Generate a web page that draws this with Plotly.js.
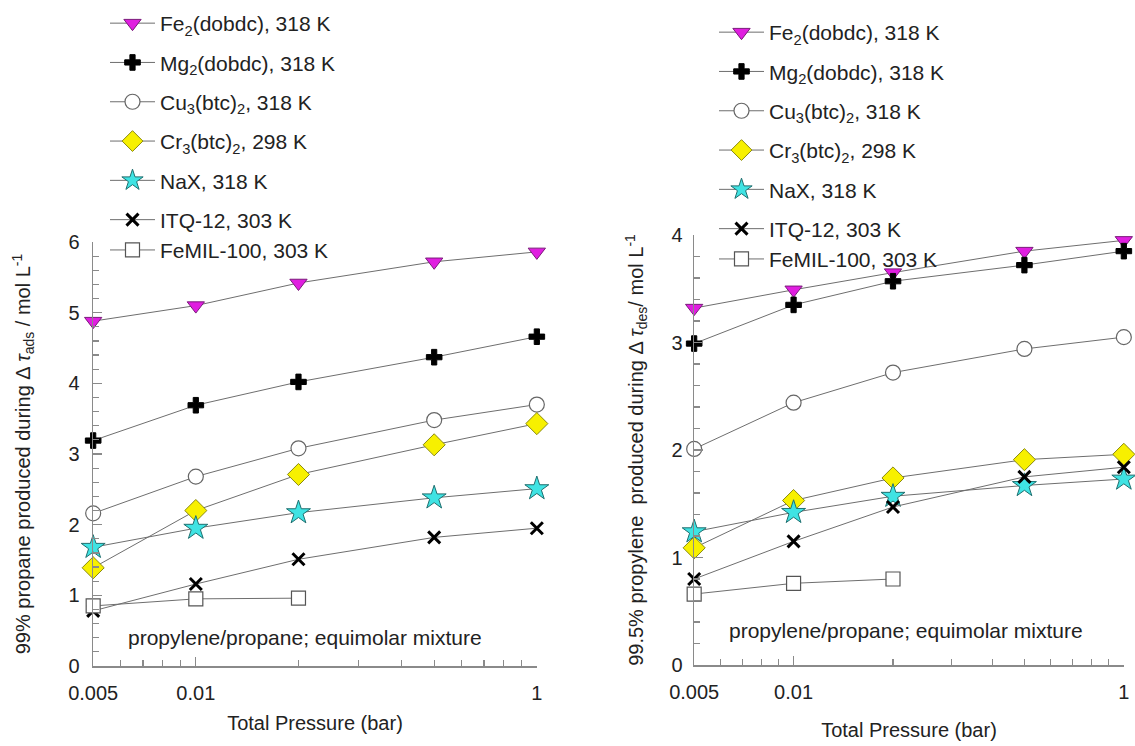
<!DOCTYPE html>
<html>
<head>
<meta charset="utf-8">
<script src="https://cdn.plot.ly/plotly-3.0.1.min.js"></script>
<style>html,body{margin:0;padding:0;background:#fff;}#chart{width:1135px;height:746px;}</style>
</head>
<body>
<div id="chart"></div>
<script>
// ---------- data ----------
const pressure = [0.005, 0.01, 0.02, 0.05, 0.1];
const pressureShort = [0.005, 0.01, 0.02];

const seriesNames = [
  "Fe<sub>2</sub>(dobdc), 318 K",
  "Mg<sub>2</sub>(dobdc), 318 K",
  "Cu<sub>3</sub>(btc)<sub>2</sub>, 318 K",
  "Cr<sub>3</sub>(btc)<sub>2</sub>, 298 K",
  "NaX, 318 K",
  "ITQ-12, 303 K",
  "FeMIL-100, 303 K"
];

// left panel: 99% propane produced during adsorption (mol/L)
const adsFe    = [4.88, 5.10, 5.42, 5.72, 5.86];
const adsMg    = [3.19, 3.69, 4.02, 4.37, 4.66];
const adsCu    = [2.16, 2.68, 3.08, 3.48, 3.70];
const adsCr    = [1.39, 2.20, 2.71, 3.13, 3.43];
const adsNaX   = [1.68, 1.95, 2.17, 2.38, 2.51];
const adsITQ   = [0.78, 1.16, 1.51, 1.82, 1.95];
const adsFeMIL = [0.85, 0.95, 0.96];

// right panel: 99.5% propylene produced during desorption (mol/L)
const desFe    = [3.32, 3.49, 3.65, 3.85, 3.95];
const desMg    = [2.99, 3.35, 3.57, 3.72, 3.85];
const desCu    = [2.01, 2.44, 2.72, 2.94, 3.05];
const desCr    = [1.09, 1.53, 1.74, 1.91, 1.96];
const desNaX   = [1.24, 1.42, 1.57, 1.67, 1.73];
const desITQ   = [0.80, 1.15, 1.47, 1.75, 1.84];
const desFeMIL = [0.66, 0.76, 0.80];

const xTickVals = [0.005, 0.01, 0.1];
const xTickText = ["0.005", "0.01", "1"];
const xMinorVals = [0.006, 0.007, 0.008, 0.009, 0.02, 0.03, 0.04, 0.05, 0.06, 0.07, 0.08, 0.09];

// ---------- styles ----------
const markerStyles = [
  {symbol: "triangle-down", size: 15, color: "#e01ee0", line: {color: "#7a1a7a", width: 1}},
  {symbol: "cross", size: 13, color: "#000000", line: {color: "#000000", width: 1}},
  {symbol: "circle", size: 15, color: "#ffffff", line: {color: "#666666", width: 1.2}},
  {symbol: "diamond", size: 17, color: "#f7f000", line: {color: "#8a8a10", width: 1}},
  {symbol: "star", size: 18, color: "#3fe3e3", line: {color: "#1f6f6f", width: 1}},
  {symbol: "x-thin", size: 12, color: "#000000", line: {color: "#000000", width: 3}},
  {symbol: "square", size: 14, color: "#ffffff", line: {color: "#555555", width: 1.2}}
];
const groupIds = ["g1", "g2", "g3", "g4", "g5", "g6", "g6"];

const leftSeries  = [adsFe, adsMg, adsCu, adsCr, adsNaX, adsITQ, adsFeMIL];
const rightSeries = [desFe, desMg, desCu, desCr, desNaX, desITQ, desFeMIL];

function makeTraces(series, xa, ya, legendId, suffix) {
  return series.map((vals, i) => ({
    type: "scatter",
    mode: "lines+markers",
    x: vals.length === pressure.length ? pressure : pressureShort,
    y: vals,
    xaxis: xa, yaxis: ya,
    name: seriesNames[i],
    legend: legendId,
    legendgroup: groupIds[i] + suffix,
    line: {color: "#6e6e6e", width: 1},
    marker: markerStyles[i],
    cliponaxis: false,
    hoverinfo: "x+y+name"
  }));
}

const traces = [].concat(
  makeTraces(leftSeries, "x", "y", "legend", "L"),
  makeTraces(rightSeries, "x2", "y2", "legend2", "R")
);

const fontFam = "Liberation Sans, Arial, Helvetica, sans-serif";
const axisCommon = {
  showline: true, linecolor: "#8a8a8a", linewidth: 1.5,
  ticks: "inside", ticklen: 9, tickcolor: "#8a8a8a", tickwidth: 1.2,
  showgrid: false, zeroline: false, automargin: false,
  tickfont: {family: fontFam, size: 20, color: "#222"}
};

// a hair of padding so the end points at 0.005 and 0.1 are not dropped as "outside"
const xRange = [Math.log10(0.005) - 0.0005, Math.log10(0.1) + 0.0005];

function xAxis(domain, anchor, standoff) {
  return Object.assign({}, axisCommon, {
    type: "log", domain: domain, anchor: anchor,
    range: xRange, ticklabelstandoff: 8,
    tickmode: "array", tickvals: xTickVals, ticktext: xTickText,
    minor: {tickmode: "array", tickvals: xMinorVals, ticks: "inside", ticklen: 6, tickcolor: "#8a8a8a", tickwidth: 1.2},
    title: {text: "Total Pressure (bar)", font: {family: fontFam, size: 20, color: "#222"}, standoff: standoff}
  });
}
function yAxis(domain, anchor, top, titleText, standoff, labelGap) {
  return Object.assign({}, axisCommon, {
    domain: domain, anchor: anchor, range: [0, top],
    tickmode: "linear", tick0: 0, dtick: 1, ticklabelstandoff: labelGap,
    minor: {dtick: 0.2, ticks: "inside", ticklen: 6, tickcolor: "#8a8a8a", tickwidth: 1.2},
    title: {text: titleText, font: {family: fontFam, size: 20, color: "#222"}, standoff: standoff}
  });
}

const legendCommon = {
  bgcolor: "rgba(0,0,0,0)", borderwidth: 0,
  font: {family: fontFam, size: 21, color: "#222"},
  traceorder: "grouped", tracegroupgap: 9, itemwidth: 45,
  xanchor: "left", yanchor: "top", itemclick: false, itemdoubleclick: false
};

const layout = {
  width: 1135, height: 746,
  margin: {l: 0, r: 0, t: 0, b: 0},
  paper_bgcolor: "#ffffff", plot_bgcolor: "rgba(0,0,0,0)",
  showlegend: true,
  font: {family: fontFam, color: "#222"},
  xaxis: xAxis([93/1135, 537/1135], "y", 13),
  yaxis: yAxis([80/746, 504/746], "x", 6,
    "99% propane produced during \u0394 <i>\u03c4</i><sub>ads</sub> / mol L<sup>-1</sup>", 32, 8),
  xaxis2: xAxis([694/1135, 1124/1135], "y2", 21),
  yaxis2: yAxis([81/746, 511/746], "x2", 4,
    "99.5% propylene  produced during \u0394 <i>\u03c4</i><sub>des</sub>/ mol L<sup>-1</sup>", 22, 6),
  legend: Object.assign({}, legendCommon, {x: 105/1135, y: 1 - 3/746}),
  legend2: Object.assign({}, legendCommon, {x: 714/1135, y: 1 - 12/746}),
  annotations: [
    {xref: "paper", yref: "paper", x: 305/1135, y: 1 - 637/746, xanchor: "center", yanchor: "middle", showarrow: false,
     text: "propylene/propane; equimolar mixture", font: {family: fontFam, size: 21, color: "#222"}},
    {xref: "paper", yref: "paper", x: 906/1135, y: 1 - 630/746, xanchor: "center", yanchor: "middle", showarrow: false,
     text: "propylene/propane; equimolar mixture", font: {family: fontFam, size: 21, color: "#222"}}
  ]
};

Plotly.newPlot("chart", traces, layout, {staticPlot: true, displayModeBar: false});
</script>
</body>
</html>
